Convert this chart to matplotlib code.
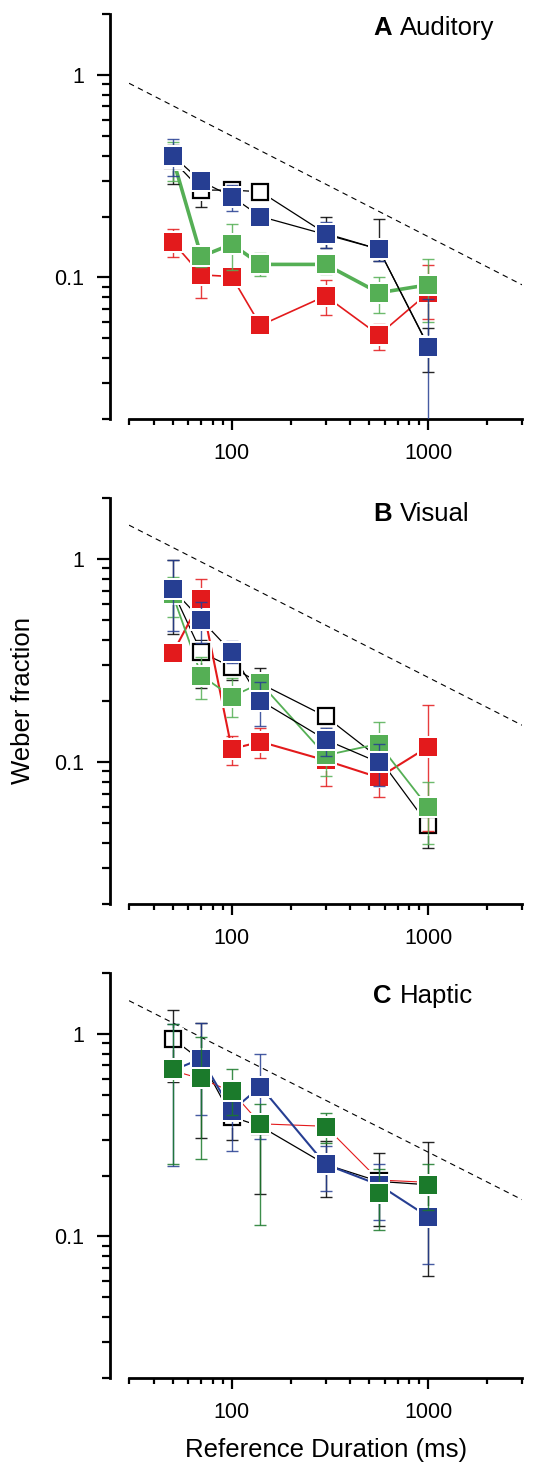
import numpy as np
import matplotlib
matplotlib.use("Agg")
import matplotlib.pyplot as plt
from matplotlib.ticker import FixedLocator, NullFormatter, FixedFormatter

plt.rcParams['font.family'] = ['Liberation Sans', 'DejaVu Sans']

# ---------------- data ----------------
durations = [50, 70, 100, 140, 300, 560, 1000]
ref_x = [30, 3000]
refA = [0.91, 0.092]
refB = [1.47, 0.152]
refC = [1.46, 0.152]

# Panel A (Auditory)
A_black = [0.38, 0.27, 0.27, 0.265, 0.165, 0.138, 0.046]
A_black_lo = [0.29, 0.222, 0.25, 0.245, 0.139, 0.120, 0.034]
A_black_hi = [0.45, 0.29, 0.30, 0.29, 0.199, 0.194, 0.056]
A_red = [0.150, 0.103, 0.101, 0.058, 0.081, 0.052, 0.084]
A_red_lo = [0.126, 0.079, 0.094, 0.055, 0.065, 0.044, 0.062]
A_red_hi = [0.173, 0.115, 0.108, 0.061, 0.097, 0.059, 0.115]
A_green = [0.39, 0.127, 0.146, 0.116, 0.116, 0.084, 0.092]
A_green_lo = [0.298, 0.113, 0.109, 0.102, 0.104, 0.067, 0.060]
A_green_hi = [0.466, 0.141, 0.183, 0.132, 0.128, 0.101, 0.123]
A_blue = [0.40, 0.298, 0.251, 0.200, 0.163, 0.138, 0.0456]
A_blue_lo = [0.318, 0.27, 0.213, 0.19, 0.139, 0.120, 0.015]
A_blue_hi = [0.483, 0.33, 0.287, 0.21, 0.187, 0.155, 0.078]

# Panel B (Visual)
B_black = [0.70, 0.347, 0.294, 0.244, 0.168, 0.105, 0.049]
B_black_lo = [0.43, 0.231, 0.254, 0.22, 0.15, 0.09, 0.0376]
B_black_hi = [0.99, 0.40, 0.33, 0.292, 0.19, 0.12, 0.055]
B_red = [0.343, 0.634, 0.116, 0.126, 0.102, 0.084, 0.119]
B_red_lo = [0.31, 0.50, 0.097, 0.105, 0.076, 0.067, 0.046]
B_red_hi = [0.37, 0.796, 0.134, 0.147, 0.12, 0.10, 0.191]
B_green = [0.67, 0.267, 0.210, 0.245, 0.108, 0.123, 0.0598]
B_green_lo = [0.52, 0.204, 0.166, 0.22, 0.085, 0.10, 0.0397]
B_green_hi = [0.82, 0.329, 0.259, 0.276, 0.13, 0.158, 0.0796]
B_blue = [0.71, 0.502, 0.348, 0.201, 0.129, 0.0996, np.nan]
B_blue_lo = [0.44, 0.386, 0.307, 0.151, 0.107, 0.076, np.nan]
B_blue_hi = [0.99, 0.614, 0.394, 0.249, 0.147, 0.123, np.nan]

# Panel C (Haptic)
C_black = [0.948, 0.74, 0.39, 0.35, 0.227, 0.187, 0.18]
C_black_lo = [0.578, 0.308, 0.298, 0.162, 0.156, 0.113, 0.064]
C_black_hi = [1.31, 1.13, 0.45, 0.40, 0.295, 0.258, 0.294]
C_red = [0.66, 0.60, 0.52, 0.36, 0.35, 0.19, 0.185]
C_green = [0.672, 0.604, 0.521, 0.36, 0.349, 0.164, 0.179]
C_green_lo = [0.228, 0.242, 0.40, 0.114, 0.29, 0.108, 0.135]
C_green_hi = [1.116, 0.97, 0.674, 0.45, 0.406, 0.216, 0.228]
C_blue = [0.66, 0.756, 0.417, 0.55, 0.227, 0.18, 0.125]
C_blue_lo = [0.224, 0.398, 0.264, 0.303, 0.168, 0.12, 0.073]
C_blue_hi = [1.116, 1.13, 0.50, 0.794, 0.28, 0.228, 0.135]

titles = [("A", "Auditory"), ("B", "Visual"), ("C", "Haptic")]

BLUE = "#263E92"
RED = "#E31A1C"
GREEN = "#55AF55"
DGREEN = "#1B7A2B"

MS = 12.8

fig = plt.figure(figsize=(5.39, 14.63), dpi=100)
W, H = 539.0, 1463.0
boxes = [(14, 419), (498, 904), (973, 1378)]
axes = []
for top, bot in boxes:
    ax = fig.add_axes([129 / W, 1 - bot / H, (522 - 129) / W, (bot - top) / H])
    axes.append(ax)


def series(ax, y, lo, hi, color, lcolor, lw, ecolor, z, open_marker=False, line=True, marker=True, err=True):
    x = np.array(durations, float)
    y = np.array(y, float)
    if line:
        ax.plot(x, y, '-', color=lcolor, lw=lw, zorder=1, solid_capstyle='butt')
    if err and lo is not None:
        lo = np.array(lo, float)
        hi = np.array(hi, float)
        ax.errorbar(x, y, yerr=[y - lo, hi - y], fmt='none', ecolor=ecolor,
                    elinewidth=1.0, capsize=4, capthick=1.0, alpha=0.85, zorder=z)
    if marker:
        # white halo
        ax.plot(x, y, 's', ms=MS + 2.5, color='white', mew=0, zorder=z + 0.1)
        if open_marker:
            ax.plot(x, y, 's', ms=MS - 1.2, mfc='white', mec='black', mew=1.6, zorder=z + 0.2)
        else:
            ax.plot(x, y, 's', ms=MS, mfc=color, mec='none', mew=0, zorder=z + 0.2)


# Panel A
ax = axes[0]
ax.plot(ref_x, refA, '--', color='black', lw=0.8, dashes=(5, 4), zorder=0.5)
series(ax, A_black, A_black_lo, A_black_hi, 'white', 'black', 0.9, 'black', 2, open_marker=True)
series(ax, A_red, A_red_lo, A_red_hi, RED, RED, 1.2, RED, 3)
series(ax, A_green, A_green_lo, A_green_hi, GREEN, GREEN, 2.6, GREEN, 4)
series(ax, A_blue, A_blue_lo, A_blue_hi, BLUE, 'black', 0.9, BLUE, 5)

# Panel B
ax = axes[1]
ax.plot(ref_x, refB, '--', color='black', lw=0.8, dashes=(5, 4), zorder=0.5)
series(ax, B_black, B_black_lo, B_black_hi, 'white', 'black', 0.9, 'black', 2, open_marker=True)
series(ax, B_red, B_red_lo, B_red_hi, RED, RED, 1.5, RED, 3)
series(ax, B_green, B_green_lo, B_green_hi, GREEN, GREEN, 1.3, GREEN, 4)
series(ax, B_blue, B_blue_lo, B_blue_hi, BLUE, 'black', 0.9, BLUE, 5)

# Panel C
ax = axes[2]
ax.plot(ref_x, refC, '--', color='black', lw=0.8, dashes=(5, 4), zorder=0.5)
series(ax, C_black, C_black_lo, C_black_hi, 'white', 'black', 0.9, 'black', 2, open_marker=True)
series(ax, C_red, None, None, RED, RED, 0.8, RED, 3, marker=False, err=False)
series(ax, C_blue, C_blue_lo, C_blue_hi, BLUE, BLUE, 1.5, BLUE, 4)
series(ax, C_green, C_green_lo, C_green_hi, DGREEN, DGREEN, 1.0, DGREEN, 5, line=False)

xmin_ticks = [30, 40, 50, 60, 70, 80, 90, 200, 300, 400, 500, 600, 700, 800, 900, 2000, 3000]
ymin_ticks = [0.02, 0.03, 0.04, 0.05, 0.06, 0.07, 0.08, 0.09,
              0.2, 0.3, 0.4, 0.5, 0.6, 0.7, 0.8, 0.9, 2.0]

for ax in axes:
    ax.set_xscale('log')
    ax.set_yscale('log')
    ax.set_xlim(30, 3000)
    ax.set_ylim(0.02, 2.0)
    for s in ['top', 'right']:
        ax.spines[s].set_visible(False)
    ax.spines['left'].set_position(('outward', 13.7))
    ax.spines['left'].set_linewidth(2.0)
    ax.spines['bottom'].set_linewidth(2.0)
    ax.xaxis.set_major_locator(FixedLocator([100, 1000]))
    ax.xaxis.set_major_formatter(FixedFormatter(['100', '1000']))
    ax.xaxis.set_minor_locator(FixedLocator(xmin_ticks))
    ax.xaxis.set_minor_formatter(NullFormatter())
    ax.yaxis.set_major_locator(FixedLocator([0.1, 1.0]))
    ax.yaxis.set_major_formatter(FixedFormatter(['0.1', '1']))
    ax.yaxis.set_minor_locator(FixedLocator(ymin_ticks))
    ax.yaxis.set_minor_formatter(NullFormatter())
    ax.tick_params(axis='x', which='major', length=8, width=1.6, labelsize=15.5, pad=9, direction='out')
    ax.tick_params(axis='x', which='minor', length=4.5, width=1.6, direction='out')
    ax.tick_params(axis='y', which='major', length=9.5, width=1.6, labelsize=15.5, pad=9, direction='out')
    ax.tick_params(axis='y', which='minor', length=6, width=1.6, direction='out')
    ax.set_facecolor('none')

title_y = [0.948, 0.943, 0.926]
for ax, (letter, name), ty in zip(axes, titles, title_y):
    ax.text(0.621, ty, letter, transform=ax.transAxes, fontsize=18.5,
            fontweight='bold', ha='left', va='baseline')
    ax.text(0.621 + 0.069, ty, name, transform=ax.transAxes, fontsize=18.5,
            ha='left', va='baseline')

fig.text(23 / W, 0.5 * (1 - 498 / H + 1 - 904 / H), 'Weber fraction', rotation=90,
         fontsize=18.5, ha='center', va='center')
fig.text(326 / W, 0.001, 'Reference Duration (ms)', fontsize=18.5, ha='center', va='bottom')

fig.savefig('out.png', dpi=100)
